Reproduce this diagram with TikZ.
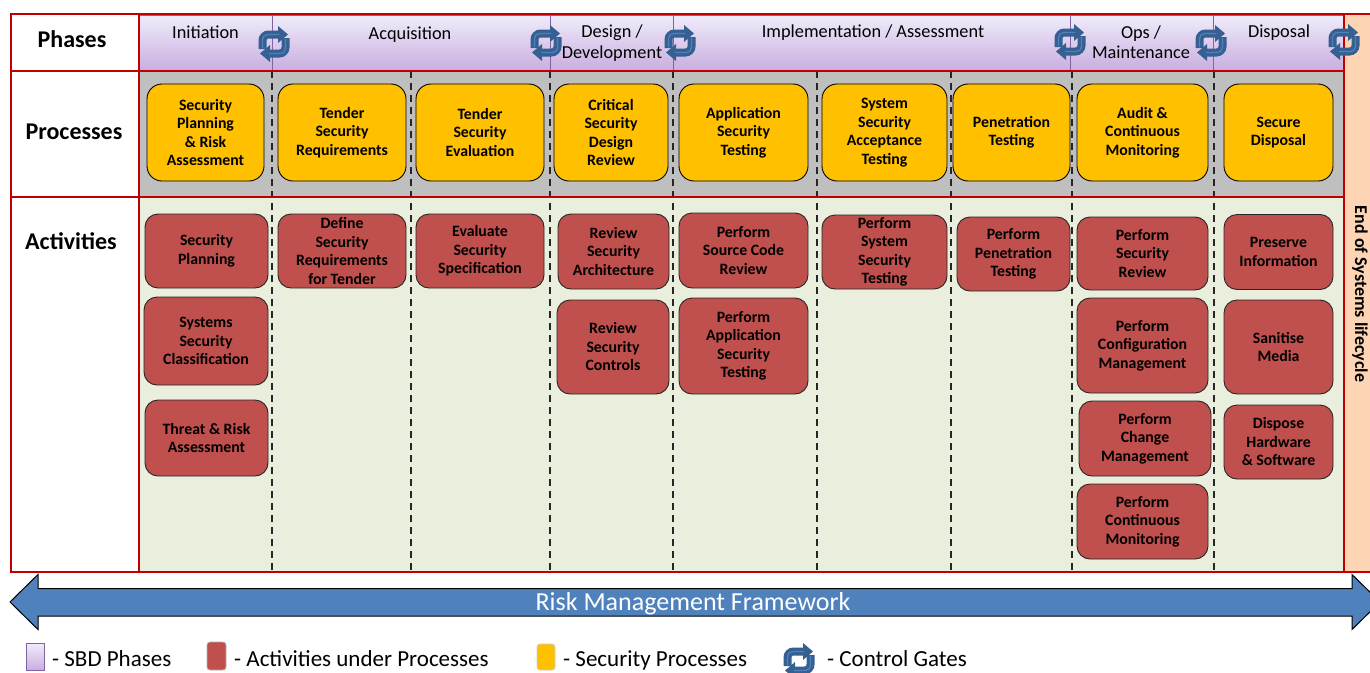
\documentclass[tikz,border=0pt]{standalone}
\usepackage{xcolor}
\usepackage{fontspec}
\setmainfont{Carlito}

\definecolor{redline}{HTML}{C00000}
\definecolor{procyellow}{HTML}{FFC000}
\definecolor{actred}{HTML}{C0504D}
\definecolor{gateblue}{HTML}{366092}
\definecolor{gatelight}{HTML}{4F81BD}
\definecolor{phasetop}{HTML}{F0ECFA}
\definecolor{phasebot}{HTML}{C9AEDF}
\definecolor{phaseline}{HTML}{8064A2}

\tikzset{
  procbox/.style={draw=black, line width=0.9pt, fill=procyellow, rounded corners=15, align=center, inner sep=0pt,
    font=\fontsize{15.8}{18.5}\selectfont\bfseries, execute at begin node={\rule{0pt}{14pt}}},
  actbox/.style={draw=black!85, line width=0.9pt, fill=actred, rounded corners=13, align=center, inner sep=0pt,
    font=\fontsize{15.8}{18.5}\selectfont\bfseries, execute at begin node={\rule{0pt}{14pt}}},
  rowlabel/.style={font=\fontsize{24}{26}\selectfont\bfseries},
  phasebox/.style={draw=phaseline, line width=1pt, top color=phasetop, bottom color=phasebot, inner sep=0pt, minimum height=55},
  phaselabel/.style={align=center, inner sep=0pt, font=\fontsize{18.3}{20.5}\selectfont},
  legendtext/.style={anchor=base west, inner sep=0pt, font=\fontsize{23}{26}\selectfont},
  gate/.pic={
    \draw[gateblue, line width=8, rounded corners=6] (-11.5,5) -- (-11.5,-9.5) -- (5,-9.5);
    \fill[gateblue] (4,-18) -- (14,-9.5) -- (4,-1) -- cycle;
    \draw[gateblue, line width=8, rounded corners=6] (11.5,-6) -- (11.5,9.5) -- (-5,9.5);
    \fill[gateblue] (-4,1) -- (-14,9.5) -- (-4,18) -- cycle;
    \draw[gatelight, line width=1.2, rounded corners=5] (-11.5,4) -- (-11.5,-9.5) -- (5,-9.5);
    \draw[gatelight, line width=1.2, rounded corners=5] (11.5,-5) -- (11.5,9.5) -- (-5,9.5);
  }
}

\begin{document}
\begin{tikzpicture}[x=1pt, y=-1pt]
\useasboundingbox (0,0) rectangle (1370,672);

% table background
\fill[fill=white] (0,0) rectangle (1370,672);
\fill[fill={rgb,255:red,253;green,212;blue,180}] (1344,14) rectangle (1370,572);
\fill[fill=black!25] (139,71) rectangle (1344,197);
\fill[fill={rgb,255:red,234;green,238;blue,221}] (139,197) rectangle (1344,572);

% dividers
\foreach \x in {272,411,550,673,817,951,1072,1214}
  \draw[black!85, line width=1.3pt, dash pattern=on 7pt off 5pt] (\x,71) -- (\x,572);

% phases
\node[phasebox, minimum width=133] (initiation) at (205.5,42.5) {};
\node[phasebox, minimum width=278] (acquisition) at (411,42.5) {};
\node[phasebox, minimum width=123] (design) at (611.5,42.5) {};
\node[phasebox, minimum width=397] (implementation) at (871.5,42.5) {};
\node[phasebox, minimum width=143] (ops) at (1141.5,42.5) {};
\node[phasebox, minimum width=131] (disposal) at (1278.5,42.5) {};

% table lines
\draw[redline, line width=2.8pt] (11,14) rectangle (1344,572);
\draw[redline, line width=2.8pt] (1344,14) -- (1370,14);
\draw[redline, line width=2.8pt] (1344,572) -- (1370,572);
\draw[redline, line width=2.8pt] (139,14) -- (139,572);
\draw[redline, line width=2.8pt] (11,71) -- (1344,71);
\draw[redline, line width=2.8pt] (11,197) -- (1344,197);

% row names
\node[rowlabel] (phases) at (72,39) {Phases};
\node[rowlabel] (processes) at (74,132) {Processes};
\node[rowlabel] (activities) at (71,241) {Activities};

% phase names
\node[phaselabel] (lblinit) at (205.5,32) {Initiation};
\node[phaselabel] (lblacq) at (410,34.5) {Acquisition};
\node[phaselabel] (lbldesign) at (612,43) {Design /\\Development};
\node[phaselabel] (lblimpl) at (873,32.5) {Implementation / Assessment};
\node[phaselabel] (lblops) at (1141,42) {Ops /\\Maintenance};
\node[phaselabel] (lbldisp) at (1279,32.5) {Disposal};

% control gates
\pic at (274,44) {gate};
\pic at (546,43) {gate};
\pic at (680,43) {gate};
\pic at (1070,42) {gate};
\pic at (1211,43) {gate};
\pic at (1344,42) {gate};

% processes
\node[procbox, minimum width=117, minimum height=97] (pplan) at (205.5,132.5) {Security\\Planning\\\& Risk\\Assessment};
\node[procbox, minimum width=128, minimum height=97] (preq) at (342,132.5) {Tender\\Security\\Requirements};
\node[procbox, minimum width=128, minimum height=97] (peval) at (480,132.5) {Tender\\Security\\Evaluation};
\node[procbox, minimum width=114, minimum height=97] (pdesign) at (611,132.5) {Critical\\Security\\Design\\Review};
\node[procbox, minimum width=129, minimum height=97] (papp) at (743.5,132.5) {Application\\Security\\Testing};
\node[procbox, minimum width=125, minimum height=97] (psys) at (884.5,132.5) {System\\Security\\Acceptance\\Testing};
\node[procbox, minimum width=117, minimum height=97] (ppen) at (1011.5,132.5) {Penetration\\Testing};
\node[procbox, minimum width=131, minimum height=97] (paudit) at (1142.5,132.5) {Audit \&\\Continuous\\Monitoring};
\node[procbox, minimum width=109, minimum height=97] (psec) at (1278.5,132.5) {Secure\\Disposal};

% activities
\node[actbox, minimum width=123, minimum height=74] (aplan) at (206.5,251) {Security\\Planning};
\node[actbox, minimum width=124, minimum height=88] (aclass) at (206,341) {Systems\\Security\\Classification};
\node[actbox, minimum width=123, minimum height=76] (arisk) at (206.5,438) {Threat \& Risk\\Assessment};
\node[actbox, minimum width=128, minimum height=74] (adefine) at (342,251) {Define\\Security\\Requirements\\for Tender};
\node[actbox, minimum width=128, minimum height=74] (aspec) at (480,251) {Evaluate\\Security\\Specification};
\node[actbox, minimum width=111, minimum height=75] (aarch) at (613.5,251.5) {Review\\Security\\Architecture};
\node[actbox, minimum width=112, minimum height=94] (actrl) at (613,347) {Review\\Security\\Controls};
\node[actbox, minimum width=129, minimum height=75] (asrc) at (743.5,250.5) {Perform\\Source Code\\Review};
\node[actbox, minimum width=129, minimum height=96] (aapp) at (743.5,346) {Perform\\Application\\Security\\Testing};
\node[actbox, minimum width=125, minimum height=74] (asys) at (884.5,252) {Perform\\System\\Security\\Testing};
\node[actbox, minimum width=113, minimum height=74] (apen) at (1013.5,254) {Perform\\Penetration\\Testing};
\node[actbox, minimum width=131, minimum height=73] (arev) at (1142.5,253.5) {Perform\\Security\\Review};
\node[actbox, minimum width=131, minimum height=95] (aconf) at (1142.5,345.5) {Perform\\Configuration\\Management};
\node[actbox, minimum width=132, minimum height=75] (achg) at (1145,438.5) {Perform\\Change\\Management};
\node[actbox, minimum width=131, minimum height=75] (amon) at (1142.5,521.5) {Perform\\Continuous\\Monitoring};
\node[actbox, minimum width=109, minimum height=75] (apres) at (1278.5,252) {Preserve\\Information};
\node[actbox, minimum width=109, minimum height=94] (asan) at (1278.5,347) {Sanitise\\Media};
\node[actbox, minimum width=109, minimum height=74] (adisp) at (1278.5,442) {Dispose\\Hardware\\\& Software};

% end of lifecycle
\node[rotate=-90, inner sep=0pt, font=\fontsize{18}{20}\selectfont\bfseries] (endlife) at (1360,294) {End of Systems lifecycle};

% risk framework arrow
\draw[black, line width=1pt, fill=gatelight] (10,602) -- (38,574.5) -- (38,588.5) -- (1352,588.5) -- (1352,574.5) -- (1380,602)
  -- (1352,629.5) -- (1352,616) -- (38,616) -- (38,629.5) -- cycle;
\node[text=white, inner sep=0pt, font=\fontsize{26}{28}\selectfont] (rmf) at (693,604) {Risk Management Framework};

% legend
\node[draw=phaseline, line width=1pt, top color=phasetop, bottom color=phasebot, minimum width=18, minimum height=27, inner sep=0pt] (legphase) at (35,656.5) {};
\node[legendtext] (txtphase) at (52,666) {- SBD Phases};
\node[draw=black!30, line width=0.8pt, fill=actred, rounded corners=3, minimum width=19, minimum height=28, inner sep=0pt] (legact) at (216.5,656) {};
\node[legendtext] (txtact) at (234,666) {- Activities under Processes};
\node[draw=black!20, line width=0.8pt, fill=procyellow, rounded corners=3, minimum width=18, minimum height=26, inner sep=0pt] (legproc) at (546,657) {};
\node[legendtext] (txtproc) at (563,666) {- Security Processes};
\pic at (799,661) {gate};
\node[legendtext] (txtgate) at (827,666) {- Control Gates};
\end{tikzpicture}
\end{document}
